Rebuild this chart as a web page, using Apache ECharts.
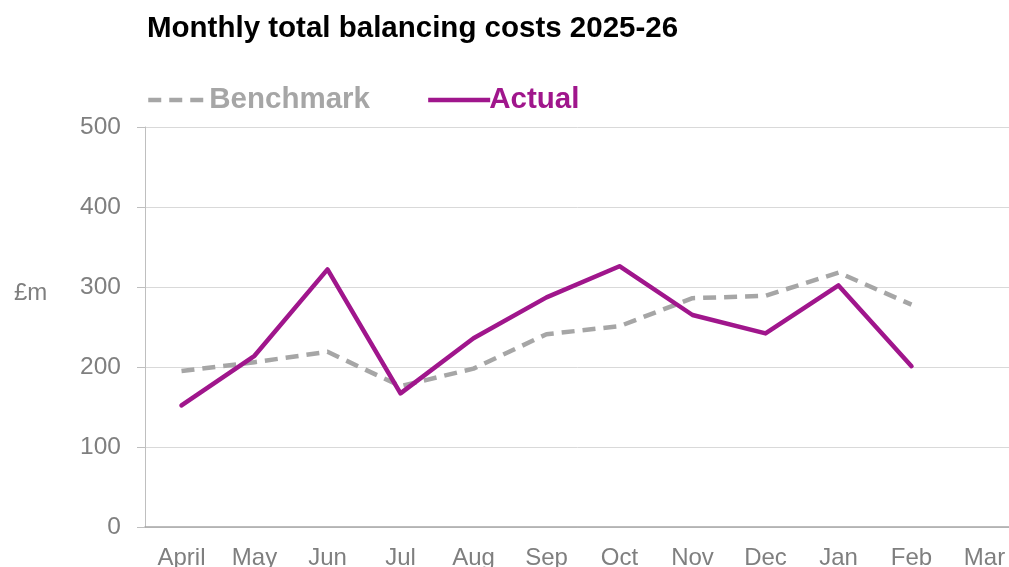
<!DOCTYPE html>
<html>
<head>
<meta charset="utf-8">
<script src="https://cdn.jsdelivr.net/npm/echarts@6/dist/echarts.min.js"></script>
<style>
  html, body { margin: 0; padding: 0; background: #ffffff; }
  #chart { width: 1009px; height: 567px; }
</style>
</head>
<body>
<div id="chart"></div>
<script>
// Monthly balancing costs, £m
const months = ['April', 'May', 'Jun', 'Jul', 'Aug', 'Sep', 'Oct', 'Nov', 'Dec', 'Jan', 'Feb', 'Mar'];
const benchmark = [195, 206, 219, 176, 198, 241, 251, 286, 289, 318, 278, null];
const actual = [152, 214, 322, 167, 236, 287, 326, 265, 242, 302, 201, null];
const yTicks = [0, 100, 200, 300, 400, 500];

const FONT = '"Liberation Sans", Arial, sans-serif';
const GREY = '#A6A6A6';
const PURPLE = '#A0168C';
const LABEL = '#7F7F7F';

const chart = echarts.init(document.getElementById('chart'), null, { renderer: 'canvas' });

chart.setOption({
  animation: false,
  backgroundColor: '#ffffff',
  title: [
    {
      text: 'Monthly total balancing costs 2025-26',
      left: 142,
      top: 9,
      textStyle: { fontFamily: FONT, fontSize: 29.5, fontWeight: 'bold', color: '#000000' }
    },
    {
      text: '£m',
      left: 9,
      top: 276,
      textStyle: { fontFamily: FONT, fontSize: 24, fontWeight: 'normal', color: LABEL }
    }
  ],
  legend: {
    left: 141,
    top: 80,
    itemWidth: 62,
    itemHeight: 14,
    itemGap: 56,
    itemStyle: { opacity: 0 },
    lineStyle: { width: 4.5, cap: 'butt' },
    data: [
      { name: 'Benchmark', textStyle: { color: GREY } },
      { name: 'Actual', textStyle: { color: PURPLE } }
    ],
    textStyle: { fontFamily: FONT, fontSize: 29.5, fontWeight: 'bold', padding: [0, 0, 0, -6] }
  },
  grid: {
    left: 145,
    top: 127,
    width: 876,
    bottom: 40,
    containLabel: false,
    outerBoundsMode: 'none'
  },
  xAxis: {
    type: 'category',
    data: months,
    boundaryGap: true,
    axisLine: { show: true, lineStyle: { color: '#A6A6A6', width: 1.5 } },
    axisTick: { show: false },
    axisLabel: { fontFamily: FONT, fontSize: 24, color: LABEL, margin: 19, interval: 0 },
    splitLine: { show: false }
  },
  yAxis: {
    type: 'value',
    min: yTicks[0],
    max: yTicks[yTicks.length - 1],
    interval: 100,
    axisLine: { show: true, lineStyle: { color: '#BFBFBF', width: 1 } },
    axisTick: { show: true, length: 8, lineStyle: { color: '#BFBFBF' } },
    axisLabel: { fontFamily: FONT, fontSize: 24.5, color: LABEL, margin: 24 },
    splitLine: { show: true, lineStyle: { color: '#D9D9D9', width: 1 } }
  },
  series: [
    {
      name: 'Benchmark',
      type: 'line',
      data: benchmark,
      symbol: 'none',
      color: GREY,
      lineStyle: { color: GREY, width: 4.5, type: [13, 8], cap: 'butt', join: 'round' },
      z: 2
    },
    {
      name: 'Actual',
      type: 'line',
      data: actual,
      symbol: 'none',
      color: PURPLE,
      lineStyle: { color: PURPLE, width: 4.5, cap: 'round', join: 'round' },
      z: 3
    }
  ]
});
</script>
</body>
</html>
